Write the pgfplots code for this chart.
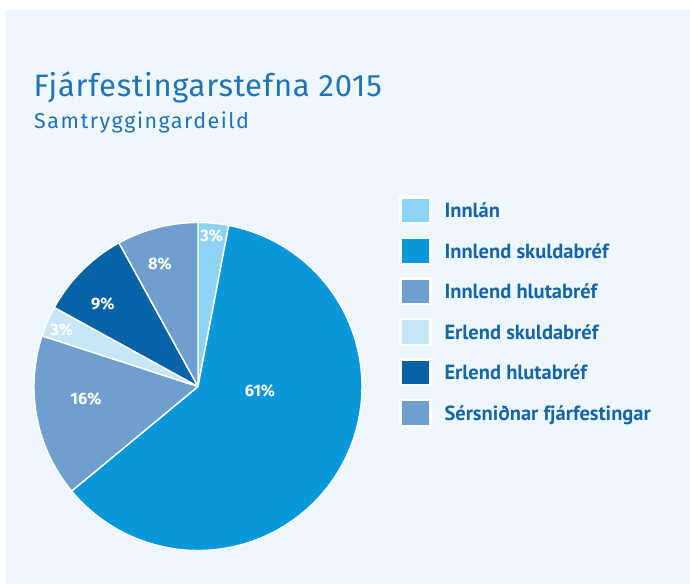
\documentclass[border=0pt]{standalone}
\usepackage{pgfplots}
\usepackage{pgfplotstable}
\pgfplotsset{compat=1.18}
\usepackage{fontspec}
\setmainfont{Fira Sans}
\newfontfamily\legfont{PT Sans}
\newfontfamily\titlefont[LetterSpace=2.4]{Fira Sans}
\newfontfamily\subtitlefont[LetterSpace=7]{Fira Sans}

\definecolor{bgblue}{HTML}{EFF7FE}
\definecolor{titlecol}{HTML}{2273B6}
\definecolor{legtext}{HTML}{1565A9}
\definecolor{cInnlan}{HTML}{8DD3F5}
\definecolor{cInnSk}{HTML}{0897D8}
\definecolor{cInnHl}{HTML}{6F9FCE}
\definecolor{cErlSk}{HTML}{C7E7F8}
\definecolor{cErlHl}{HTML}{0763A6}
\definecolor{cSer}{HTML}{6F9FCE}

% share (%), label position in axis units
\pgfplotstableread{
share lx ly
3 0.084 0.918
61 0.378 -0.027
16 -0.683 -0.076
3 -0.831 0.345
9 -0.581 0.501
8 -0.232 0.747
}\piedata

\newcommand\readslice[4]{%
  \pgfplotstablegetelem{#1}{share}\of\piedata\let#2\pgfplotsretval
  \pgfplotstablegetelem{#1}{lx}\of\piedata\let#3\pgfplotsretval
  \pgfplotstablegetelem{#1}{ly}\of\piedata\let#4\pgfplotsretval}

\tikzset{slicelabel/.style={text=white, inner sep=0, font=\bfseries\fontsize{16.5}{19}\selectfont}}

\begin{document}
\begin{tikzpicture}[x=1pt,y=1pt]
\fill[white] (0,0) rectangle (690,-584);
\fill[bgblue] (4.5,-10) rectangle (690,-584);

% titles
\node[anchor=base west, inner sep=0, text=titlecol, font=\titlefont\fontsize{31}{36}\selectfont] at (33.5,-96.5) {Fjárfestingarstefna 2015};
\node[anchor=base west, inner sep=0, text=titlecol, font=\subtitlefont\fontsize{21.5}{25}\selectfont] at (34,-128.3) {Samtryggingardeild};

\readslice{0}{\sA}{\xA}{\yA}
\readslice{1}{\sB}{\xB}{\yB}
\readslice{2}{\sC}{\xC}{\yC}
\readslice{3}{\sD}{\xD}{\yD}
\readslice{4}{\sE}{\xE}{\yE}
\readslice{5}{\sF}{\xF}{\yF}
\pgfmathsetmacro\angA{90}
\pgfmathsetmacro\angB{\angA-3.6*\sA}
\pgfmathsetmacro\angC{\angB-3.6*\sB}
\pgfmathsetmacro\angD{\angC-3.6*\sC}
\pgfmathsetmacro\angE{\angD-3.6*\sD}
\pgfmathsetmacro\angF{\angE-3.6*\sE}
\pgfmathsetmacro\angG{\angF-3.6*\sF}

\begin{axis}[
  at={(198pt,-386.5pt)}, anchor=center,
  scale only axis, width=328pt, height=328pt,
  xmin=-1, xmax=1, ymin=-1, ymax=1,
  hide axis, clip=false,
  every axis plot/.append style={draw=white, line width=1.4pt, line join=round, samples=120},
]
\addplot[fill=cInnlan, domain=\angB:\angA] ({cos(x)},{sin(x)}) -- (axis cs:0,0) -- cycle;
\addplot[fill=cInnSk, domain=\angC:\angB] ({cos(x)},{sin(x)}) -- (axis cs:0,0) -- cycle;
\addplot[fill=cInnHl, domain=\angD:\angC] ({cos(x)},{sin(x)}) -- (axis cs:0,0) -- cycle;
\addplot[fill=cErlSk, domain=\angE:\angD] ({cos(x)},{sin(x)}) -- (axis cs:0,0) -- cycle;
\addplot[fill=cErlHl, domain=\angF:\angE] ({cos(x)},{sin(x)}) -- (axis cs:0,0) -- cycle;
\addplot[fill=cSer, domain=\angG:\angF] ({cos(x)},{sin(x)}) -- (axis cs:0,0) -- cycle;
\node[slicelabel] at (axis cs:\xA,\yA) {\sA\%};
\node[slicelabel] at (axis cs:\xB,\yB) {\sB\%};
\node[slicelabel] at (axis cs:\xC,\yC) {\sC\%};
\node[slicelabel] at (axis cs:\xD,\yD) {\sD\%};
\node[slicelabel] at (axis cs:\xE,\yE) {\sE\%};
\node[slicelabel] at (axis cs:\xF,\yF) {\sF\%};
\end{axis}

% legend
\foreach \col/\txt [count=\i from 0] in {cInnlan/Innlán, cInnSk/Innlend skuldabréf, cInnHl/Innlend hlutabréf, cErlSk/Erlend skuldabréf, cErlHl/Erlend hlutabréf, cSer/Sérsniðnar fjárfestingar}{
  \pgfmathsetmacro\yc{-210.3-40.5*\i}
  \fill[white] (399.3,\yc-14) rectangle (431.7,\yc+14);
  \fill[\col] (401.7,\yc-11.7) rectangle (429.3,\yc+11.7);
  \node[anchor=base west, inner sep=0, text=legtext, font=\legfont\bfseries\fontsize{20.5}{24}\selectfont] at (444.3,\yc-7.5) {\txt};
}
\end{tikzpicture}
\end{document}
